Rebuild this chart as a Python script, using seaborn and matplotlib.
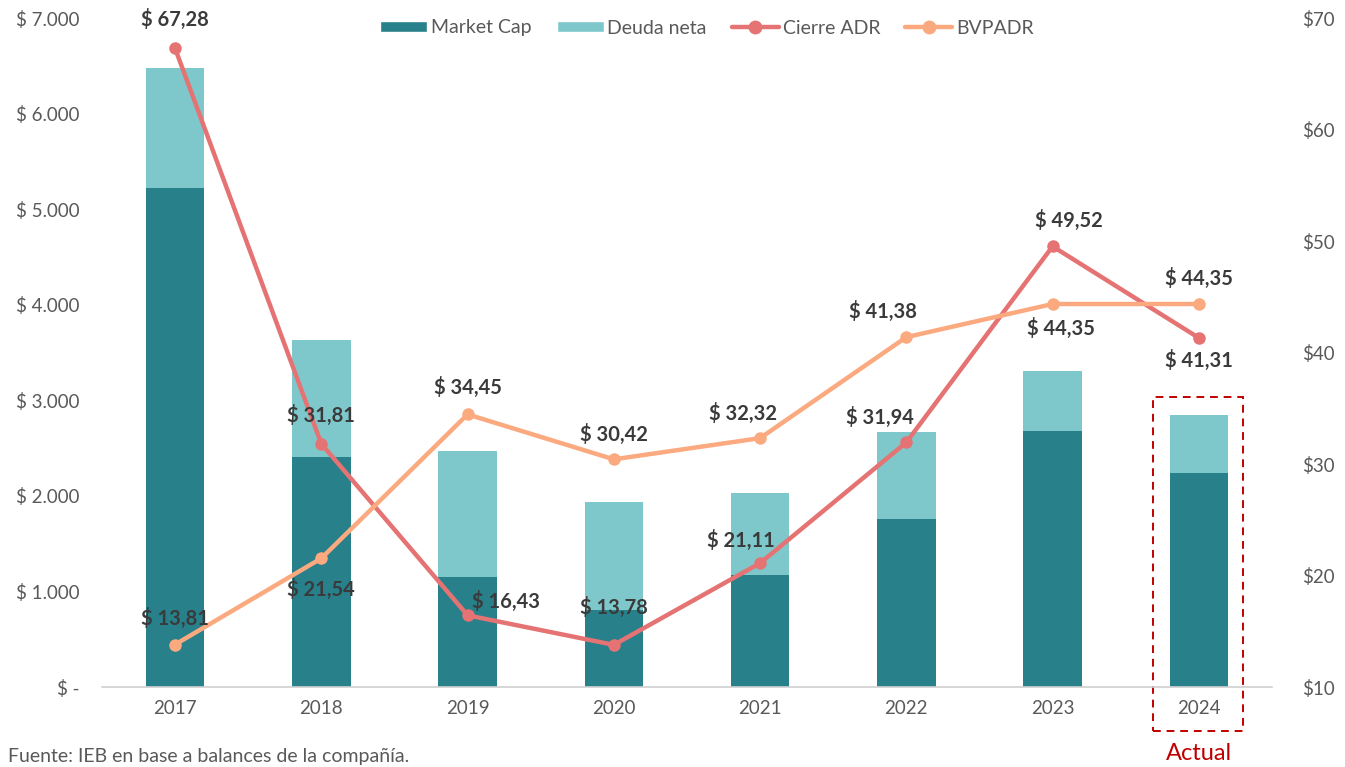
import numpy as np
import pandas as pd
import matplotlib.pyplot as plt
import seaborn as sns
from matplotlib.patches import Patch, Rectangle
from matplotlib.lines import Line2D
from matplotlib.ticker import FuncFormatter

anios = ["2017", "2018", "2019", "2020", "2021", "2022", "2023", "2024"]
market_cap = [5220, 2406, 1151, 805, 1172, 1757, 2678, 2238]
deuda_neta = [1255, 1224, 1318, 1130, 857, 910, 627, 607]
cierre_adr = [67.28, 31.81, 16.43, 13.78, 21.11, 31.94, 49.52, 41.31]
bvpadr = [13.81, 21.54, 34.45, 30.42, 32.32, 41.38, 44.35, 44.35]

# desplazamiento de etiquetas (pixeles)
off_adr = [(0, 29), (0, 28), (38, 14), (0, 37), (-19, 23), (-26, 25), (16, 26), (0, -23)]
off_bvp = [(0, 26), (0, -31), (0, 27), (0, 25), (-17, 25), (-23, 26), (8, -24), (0, 26)]

C_MC = "#27808A"
C_DN = "#7EC8CB"
C_ADR = "#E57373"
C_BVP = "#FBAA80"
C_TXT = "#3A3A3A"
C_TICK = "#595959"

sns.set_theme(style="white")
plt.rcParams["font.family"] = ["Lato", "DejaVu Sans"]

df = pd.DataFrame({"Anio": anios, "MarketCap": market_cap, "Deuda": deuda_neta,
                   "ADR": cierre_adr, "BVP": bvpadr})
df["Total"] = df["MarketCap"] + df["Deuda"]
df["pos"] = np.arange(len(df))

fig = plt.figure(figsize=(13.45, 7.67), dpi=100)
ax = fig.add_axes([0.0758, 0.1043, 0.8699, 0.8722])

sns.barplot(data=df, x="Anio", y="Total", color=C_DN, width=0.4, saturation=1,
            linewidth=0, ax=ax)
sns.barplot(data=df, x="Anio", y="MarketCap", color=C_MC, width=0.4, saturation=1,
            linewidth=0, ax=ax)
ax.set_ylim(0, 7000)
ax.set_xlim(-0.5, 7.5)
ax.yaxis.set_major_formatter(FuncFormatter(
    lambda v, p: "$ -" if v == 0 else "$ " + f"{v:,.0f}".replace(",", ".")))
ax.set_xlabel("")
ax.set_ylabel("")

ax2 = ax.twinx()
sns.lineplot(data=df, x="pos", y="ADR", color=C_ADR, linewidth=3.2, marker="o",
             markersize=9, markeredgewidth=0, ax=ax2)
sns.lineplot(data=df, x="pos", y="BVP", color=C_BVP, linewidth=3.2, marker="o",
             markersize=9, markeredgewidth=0, ax=ax2)
ax2.set_ylim(10, 70)
ax2.set_xlim(-0.5, 7.5)
ax2.yaxis.set_major_formatter(FuncFormatter(lambda v, p: f"${v:.0f}"))
ax2.set_ylabel("")
ax2.set_xlabel("")

for i in range(len(df)):
    ax2.annotate("$ " + f"{cierre_adr[i]:.2f}".replace(".", ","), (i, cierre_adr[i]),
                 xytext=off_adr[i], textcoords="offset pixels", ha="center", va="center",
                 fontsize=14.5, fontweight="bold", color=C_TXT)
    ax2.annotate("$ " + f"{bvpadr[i]:.2f}".replace(".", ","), (i, bvpadr[i]),
                 xytext=off_bvp[i], textcoords="offset pixels", ha="center", va="center",
                 fontsize=14.5, fontweight="bold", color=C_TXT)

for a in (ax, ax2):
    for s in a.spines.values():
        s.set_visible(False)
    a.tick_params(length=0, labelsize=13.5, labelcolor=C_TICK)
ax.spines["bottom"].set_visible(True)
ax.spines["bottom"].set_color("#D0D0D0")
ax.spines["bottom"].set_linewidth(1.2)
ax.tick_params(axis="x", pad=9)
ax.tick_params(axis="y", pad=16)
ax2.tick_params(axis="y", pad=22)

# recuadro "Actual"
rect = Rectangle((6.685, -460), 0.615, 3490, fill=False, edgecolor="#C00000",
                 linestyle=(0, (4, 3)), linewidth=1.4, clip_on=False, transform=ax.transData)
ax.add_patch(rect)
ax.text(7, -700, "Actual", ha="center", va="center", color="#C00000", fontsize=17,
        clip_on=False)

handles = [
    Patch(facecolor=C_MC, label="Market Cap"),
    Patch(facecolor=C_DN, label="Deuda neta"),
    Line2D([0], [0], color=C_ADR, lw=3.2, marker="o", markersize=9, label="Cierre ADR"),
    Line2D([0], [0], color=C_BVP, lw=3.2, marker="o", markersize=9, label="BVPADR"),
]
fig.legend(handles=handles, loc="center", bbox_to_anchor=(707 / 1345, 1 - 28 / 767),
           ncol=4, frameon=False, fontsize=14, handlelength=2.4, handleheight=0.45,
           columnspacing=1.3, handletextpad=0.2, labelcolor=C_TICK)

fig.text(8 / 1345, 1 - 762 / 767, "Fuente: IEB en base a balances de la compañía.",
         ha="left", va="baseline", fontsize=14, color=C_TICK)

fig.savefig("out.png", dpi=100)
